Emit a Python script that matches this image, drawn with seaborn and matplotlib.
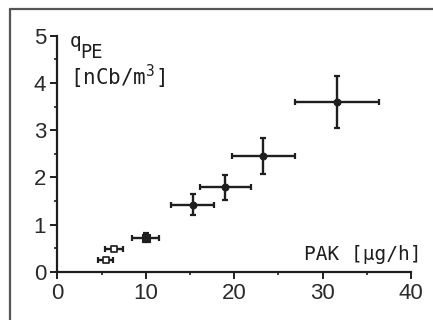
import matplotlib
matplotlib.use("Agg")
import matplotlib.pyplot as plt
from matplotlib.lines import Line2D
from matplotlib.ticker import MultipleLocator
import seaborn as sns
import pandas as pd

# PAK emission rate vs. photoelectric charge q_PE
pak = [5.5, 6.45, 10.0, 15.3, 19.0, 23.3, 31.6]
pak_err = [0.85, 1.0, 1.5, 2.4, 2.9, 3.55, 4.75]
q_pe = [0.25, 0.48, 0.72, 1.42, 1.79, 2.45, 3.60]
q_pe_err = [0.04, 0.05, 0.10, 0.22, 0.27, 0.38, 0.55]
kind = ["open", "open", "square", "dot", "dot", "dot", "dot"]

x_ticks = [0, 10, 20, 30, 40]
y_ticks = [0, 1, 2, 3, 4, 5]

df = pd.DataFrame({"pak": pak, "q": q_pe, "kind": kind})

sns.set_style("ticks")
ink = "#1e1e1e"
plt.rcParams["mathtext.fontset"] = "dejavusans"

fig = plt.figure(figsize=(4.33, 3.2), dpi=100)
ax = fig.add_axes([0.1323, 0.151, 0.817, 0.737])

ax.errorbar(pak, q_pe, xerr=pak_err, yerr=q_pe_err, fmt="none",
            ecolor=ink, elinewidth=1.7, capsize=2.5, capthick=1.6, zorder=2)

sns.scatterplot(data=df[df.kind == "dot"], x="pak", y="q", ax=ax,
                marker="o", s=24, color=ink, edgecolor=ink, linewidth=0.8,
                zorder=3, legend=False)
sns.scatterplot(data=df[df.kind == "square"], x="pak", y="q", ax=ax,
                marker="s", s=30, color=ink, edgecolor=ink, linewidth=0.8,
                zorder=3, legend=False)
sns.scatterplot(data=df[df.kind == "open"], x="pak", y="q", ax=ax,
                marker="s", s=18, facecolor="white", edgecolor=ink,
                linewidth=1.2, zorder=3, legend=False)

ax.set_xlim(0, 40)
ax.set_ylim(0, 5)
ax.set_xticks(x_ticks)
ax.set_yticks(y_ticks)
ax.xaxis.set_minor_locator(MultipleLocator(5))
ax.yaxis.set_minor_locator(MultipleLocator(0.5))
ax.set_xlabel("")
ax.set_ylabel("")

sns.despine(ax=ax)
for side in ("left", "bottom"):
    ax.spines[side].set_linewidth(1.6)
    ax.spines[side].set_color(ink)
ax.tick_params(which="major", length=5, width=1.4, color=ink,
               labelsize=16, labelcolor="#2a2a2a", pad=3)
ax.tick_params(which="minor", length=2.5, width=1.2, color=ink)
for lab in ax.get_xticklabels() + ax.get_yticklabels():
    lab.set_family("Liberation Sans")

mono = "DejaVu Sans Mono"
# axis quantity: q with a lowered "PE"
ax.text(0.036, 0.952, "q", transform=ax.transAxes, family=mono,
        fontsize=14, color=ink, ha="left", va="baseline")
ax.text(0.064, 0.905, "PE", transform=ax.transAxes, family=mono,
        fontsize=13.5, color=ink, ha="left", va="baseline")
ax.text(0.036, 0.791, r"$\mathtt{[nCb/m^{3}]}$", transform=ax.transAxes,
        fontsize=15, color=ink, ha="left", va="baseline")
ax.text(1.03, 0.05, "PAK [µg/h]", transform=ax.transAxes, family=mono,
        fontsize=14, color=ink, ha="right", va="baseline")

# frame around the figure (top and left edges)
frame_kw = dict(transform=fig.transFigure, color="#555555", linewidth=1.6)
fig.lines.append(Line2D([9.5 / 433, 1.0], [1 - 8.5 / 320] * 2, **frame_kw))
fig.lines.append(Line2D([9.5 / 433] * 2, [0.0, 1 - 8.5 / 320], **frame_kw))

fig.savefig("out.png", dpi=100, facecolor="white")
